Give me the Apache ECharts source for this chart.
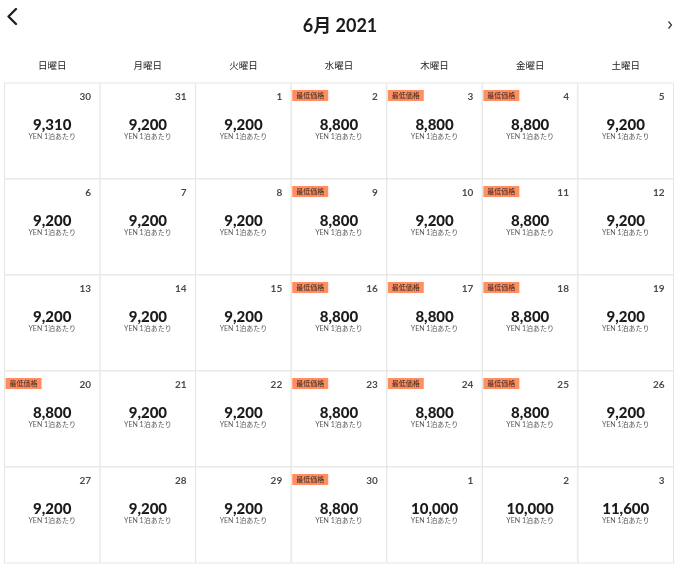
<!DOCTYPE html>
<html>
<head>
<meta charset="utf-8">
<script src="https://cdn.jsdelivr.net/npm/echarts@6/dist/echarts.min.js"></script>
<style>
  html, body { margin: 0; padding: 0; background: #fff; }
  #price-calendar { width: 680px; height: 569px; }
</style>
</head>
<body>
<div id="price-calendar"></div>
<script>
const weekdays = ['日曜日', '月曜日', '火曜日', '水曜日', '木曜日', '金曜日', '土曜日']
const weeks = ['w1', 'w2', 'w3', 'w4', 'w5']
const dayNumbers = [
  30, 31, 1, 2, 3, 4, 5,
  6, 7, 8, 9, 10, 11, 12,
  13, 14, 15, 16, 17, 18, 19,
  20, 21, 22, 23, 24, 25, 26,
  27, 28, 29, 30, 1, 2, 3
]
const prices = [
  9310, 9200, 9200, 8800, 8800, 8800, 9200,
  9200, 9200, 9200, 8800, 9200, 8800, 9200,
  9200, 9200, 9200, 8800, 8800, 8800, 9200,
  8800, 9200, 9200, 8800, 8800, 8800, 9200,
  9200, 9200, 9200, 8800, 10000, 10000, 11600
]
const titleText = '6月 2021'
const unitText = 'YEN 1泊あたり'
const badgeText = '最低価格'

const lowest = Math.min(...prices)
const cells = prices.map((p, i) => [i % 7, Math.floor(i / 7), dayNumbers[i], p])

const FONT = 'Lato, "Noto Sans CJK JP", sans-serif'

const chart = echarts.init(document.getElementById('price-calendar'))

const renderCell = (params, api) => {
  const col = api.value(0)
  const row = api.value(1)
  const day = api.value(2)
  const price = api.value(3)
  const c = api.coord([col, row])
  const s = api.size([1, 1])
  const x0 = c[0] - s[0] / 2
  const y0 = c[1] - s[1] / 2
  const children = [
    {
      type: 'rect',
      shape: {x: x0, y: y0, width: s[0], height: s[1]},
      style: {fill: '#fff', stroke: '#e5e5e5', lineWidth: 1}
    },
    {
      type: 'text',
      style: {
        x: x0 + s[0] - 9, y: y0 + 14, text: String(day),
        align: 'right', verticalAlign: 'middle',
        font: 'bold 10px ' + FONT, fill: '#4a4a4a'
      }
    },
    {
      type: 'text',
      style: {
        x: c[0], y: y0 + 42.5, text: price.toLocaleString('en-US'),
        align: 'center', verticalAlign: 'middle',
        font: '900 15px ' + FONT, fill: '#1b1b1b'
      }
    },
    {
      type: 'text',
      style: {
        x: c[0], y: y0 + 53.5, text: unitText,
        align: 'center', verticalAlign: 'middle',
        font: '7px ' + FONT, fill: '#555'
      }
    }
  ]
  if (price === lowest) {
    children.push({
      type: 'rect',
      shape: {x: x0 + 1, y: y0 + 7, width: 36, height: 11},
      style: {fill: '#ff8f62'}
    })
    children.push({
      type: 'text',
      style: {
        x: x0 + 19, y: y0 + 12.5, text: badgeText,
        align: 'center', verticalAlign: 'middle',
        font: '7px ' + FONT, fill: '#3a2a22'
      }
    })
  }
  return {type: 'group', children}
}

chart.setOption({
  animation: false,
  title: {
    text: titleText,
    left: 'center',
    top: 12,
    textStyle: {fontSize: 18, fontWeight: 'bold', color: '#1a1a1a', fontFamily: FONT}
  },
  graphic: [
    {
      type: 'polyline',
      shape: {points: [[16, 9], [8.5, 16.5], [16, 24]]},
      style: {stroke: '#222', lineWidth: 2.4, fill: null, lineCap: 'round', lineJoin: 'round'}
    },
    {
      type: 'polyline',
      shape: {points: [[668.5, 21.5], [671.5, 25], [668.5, 28.5]]},
      style: {stroke: '#333', lineWidth: 1.2, fill: null}
    }
  ],
  grid: {
    left: 4.5,
    right: 6.5,
    top: 83,
    bottom: 6
  },
  xAxis: {
    type: 'category',
    data: weekdays,
    position: 'top',
    axisLine: {show: false},
    axisTick: {show: false},
    axisLabel: {
      margin: 12,
      fontSize: 9.5,
      color: '#222',
      fontFamily: FONT
    }
  },
  yAxis: {
    type: 'category',
    data: weeks,
    inverse: true,
    show: false
  },
  series: [
    {
      type: 'custom',
      renderItem: renderCell,
      data: cells,
      silent: true
    }
  ]
})
</script>
</body>
</html>
